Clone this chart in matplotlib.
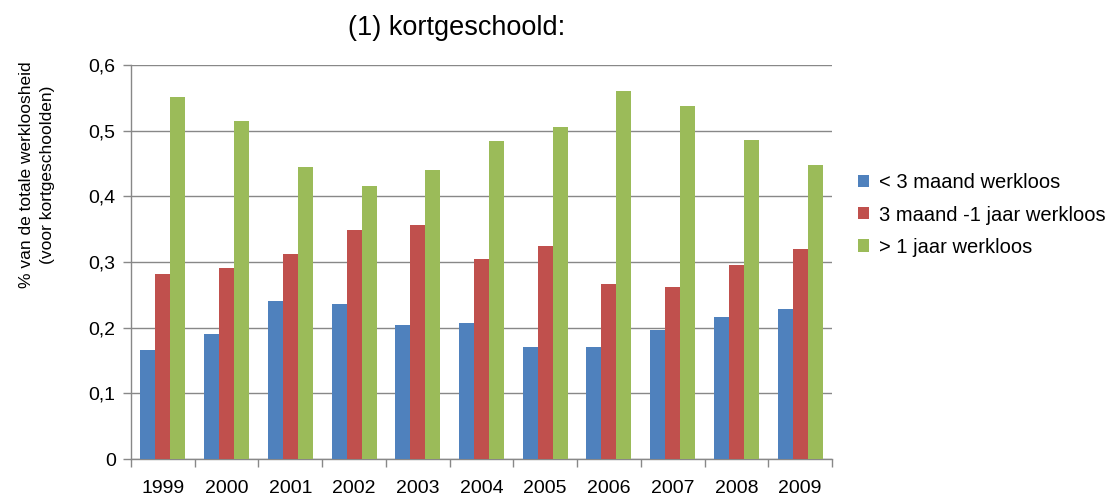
import matplotlib
matplotlib.use("Agg")
import matplotlib.pyplot as plt
import numpy as np

plt.rcParams['font.family'] = ['Liberation Sans', 'DejaVu Sans']

years = ["1999", "2000", "2001", "2002", "2003", "2004", "2005", "2006", "2007", "2008", "2009"]
kort = [0.166, 0.191, 0.241, 0.236, 0.204, 0.207, 0.171, 0.171, 0.197, 0.216, 0.229]
midden = [0.282, 0.291, 0.312, 0.349, 0.357, 0.305, 0.325, 0.267, 0.262, 0.296, 0.320]
lang = [0.552, 0.515, 0.445, 0.415, 0.440, 0.485, 0.506, 0.561, 0.537, 0.486, 0.448]
series_names = ["< 3 maand werkloos", "3 maand -1 jaar werkloos", "> 1 jaar werkloos"]
colors = ["#4F81BD", "#C0504D", "#9BBB59"]
yticks = [0, 0.1, 0.2, 0.3, 0.4, 0.5, 0.6]
ytick_labels = ["0", "0,1", "0,2", "0,3", "0,4", "0,5", "0,6"]

fig = plt.figure(figsize=(11.14, 4.97), dpi=100)
ax = fig.add_axes([131/1114, 1-459/497, (832-131)/1114, (459-65)/497])

x = np.arange(len(years))
w = 0.235
handles = []
for i, (vals, c, name) in enumerate(zip([kort, midden, lang], colors, series_names)):
    h = ax.bar(x + (i-1)*w, vals, width=w, color=c, label=name, zorder=3)
    handles.append(h)

ax.set_xlim(-0.5, len(years)-0.5)
ax.set_ylim(0, 0.6)
ax.set_yticks(yticks)
ax.set_yticklabels(ytick_labels, fontsize=14)
ax.set_xticks(x)
ax.set_xticklabels(years, fontsize=14)
ax.tick_params(axis='x', length=0, pad=15)
ax.set_xticks(np.arange(-0.5, len(years), 1), minor=True)
ax.tick_params(axis='x', which='minor', length=6, color='#888888', width=1)
ax.tick_params(axis='y', length=6, color='#888888', width=1, pad=5)

ax.grid(axis='y', color='#888888', linewidth=1, zorder=0)
for s in ['top', 'right']:
    ax.spines[s].set_visible(False)
for s in ['left', 'bottom']:
    ax.spines[s].set_color('#888888')
    ax.spines[s].set_linewidth(1)

fig.text(37/1114, 1-175/497, "% van de totale werkloosheid\n(voor kortgeschoolden)",
         fontsize=12.5, rotation=90, ha='center', va='center', multialignment='center',
         linespacing=1.5)

fig.text(457/1114, 1-28/497, "(1) kortgeschoold:", fontsize=19.5, ha='center', va='center')

fig.legend(handles=handles, labels=series_names, loc='center left',
           bbox_to_anchor=(840/1114, 1-215/497), frameon=False, fontsize=14.5,
           handlelength=0.55, handleheight=0.55, handletextpad=0.5, labelspacing=0.65)

fig.savefig("out.png", dpi=100)
